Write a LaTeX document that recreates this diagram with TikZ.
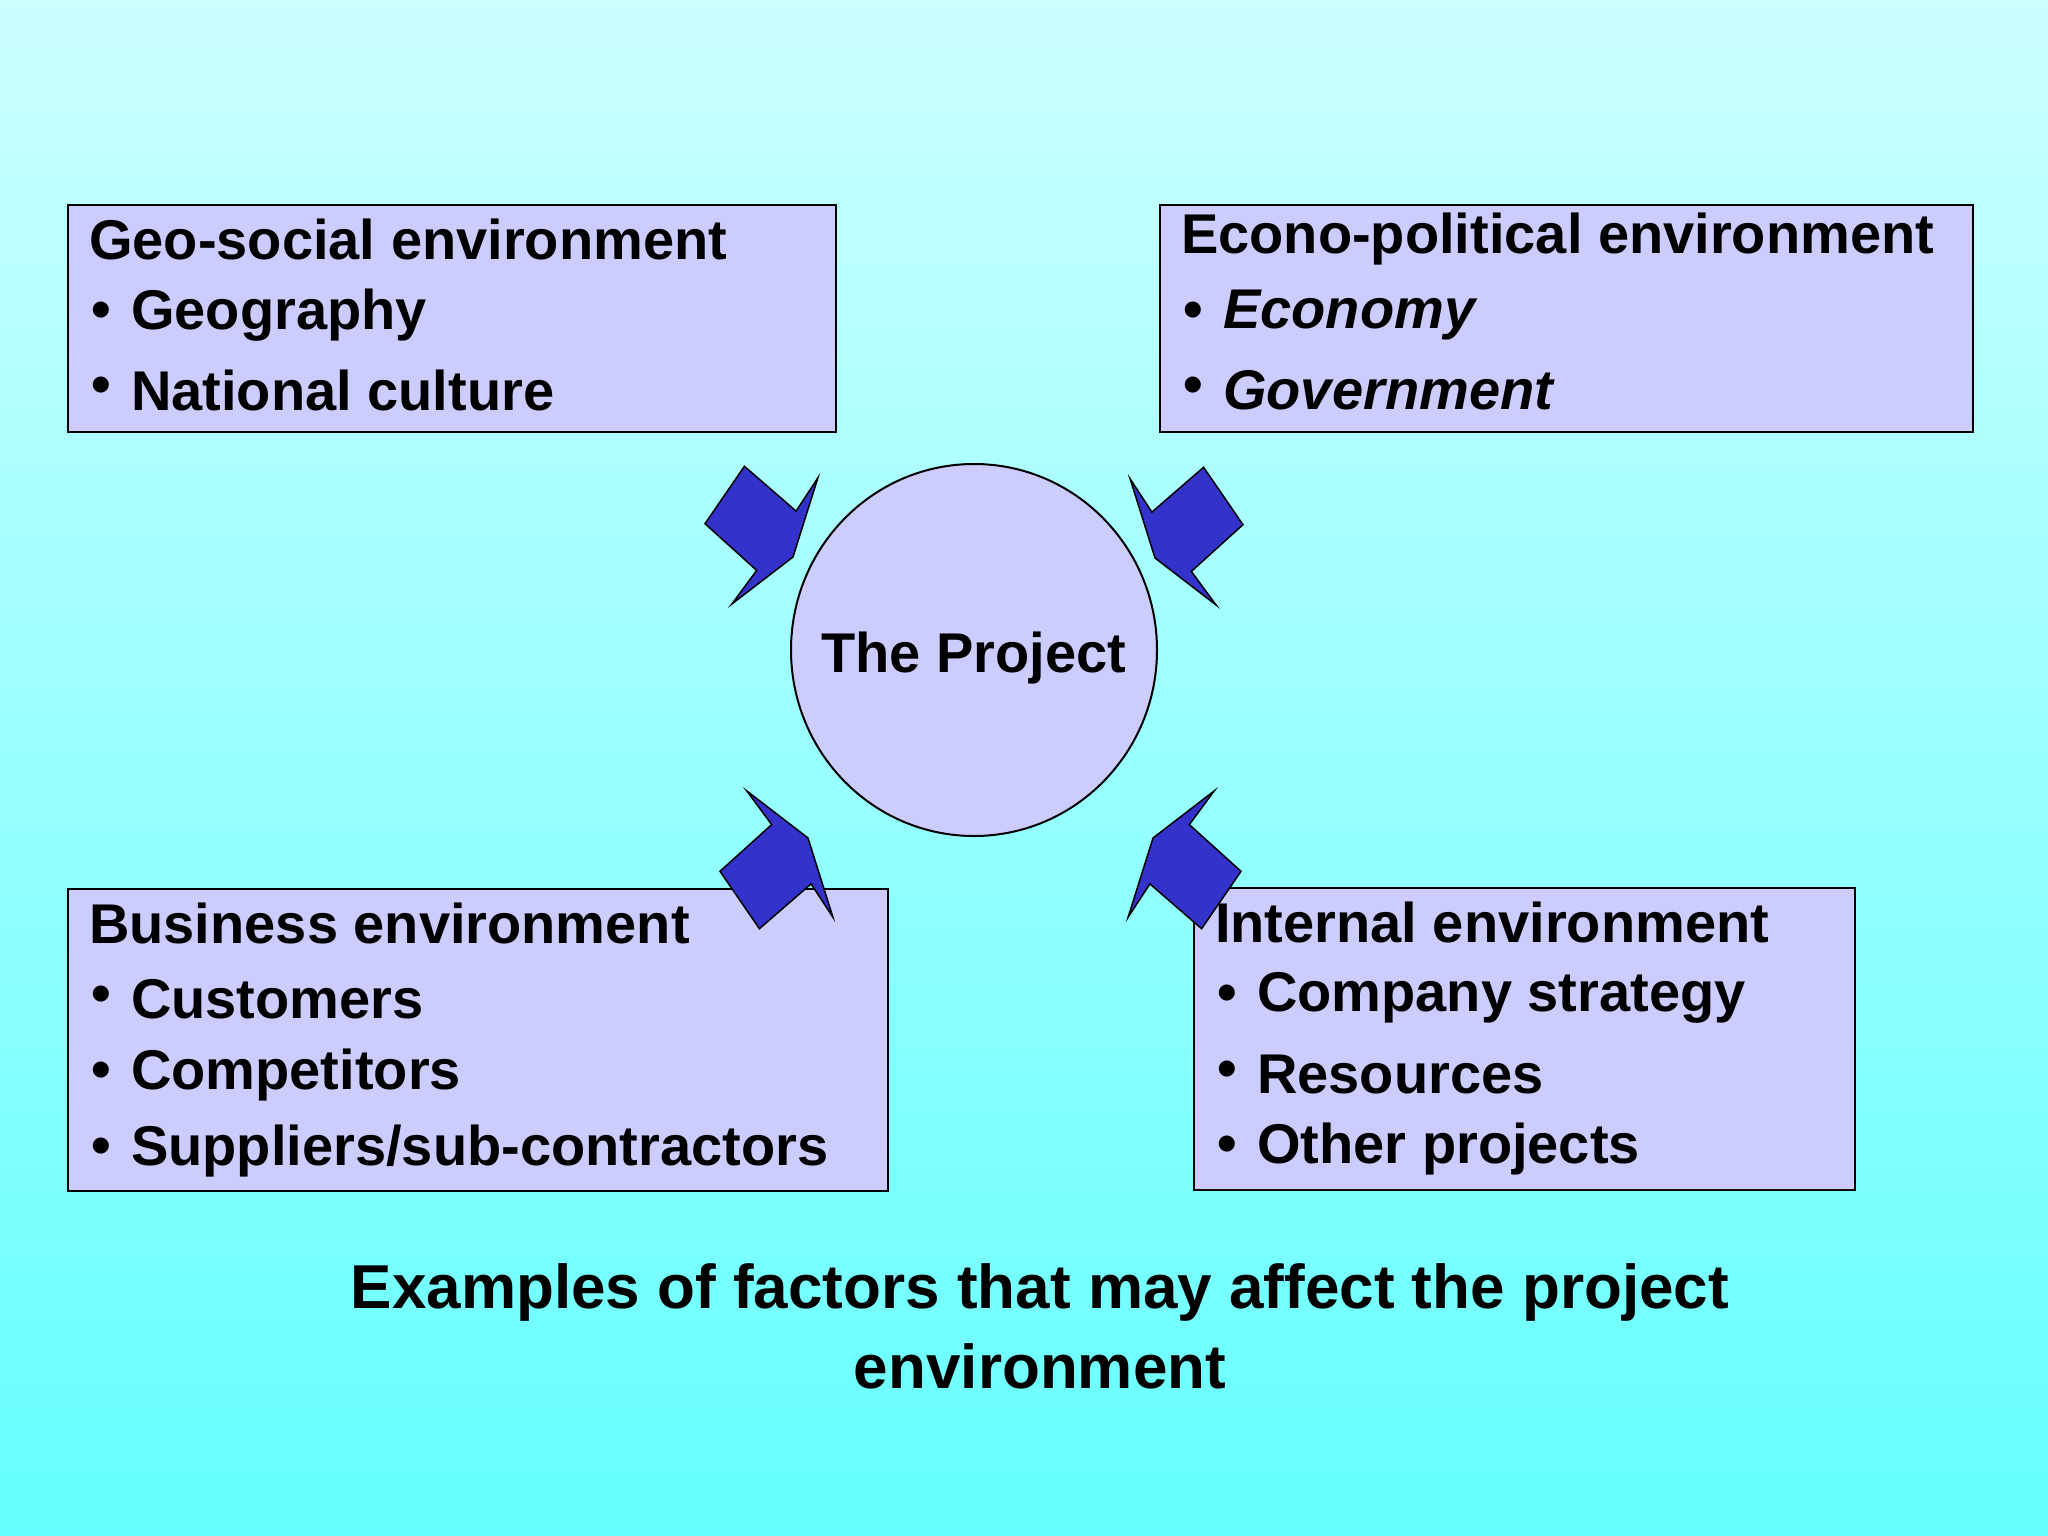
\documentclass[tikz,border=0pt]{standalone}
\usepackage{fontspec}
\setmainfont{Liberation Sans}
\definecolor{bgtop}{RGB}{204,255,255}
\definecolor{bgbot}{RGB}{102,255,255}
\definecolor{boxfill}{RGB}{204,204,255}
\definecolor{arrfill}{RGB}{51,51,204}
\tikzset{
  envbox/.style={draw=black, line width=2.5pt, fill=boxfill},
  txt/.style={anchor=west, inner sep=0pt, font=\fontsize{56}{67}\selectfont\bfseries},
  bul/.style={anchor=west, inner sep=0pt, font=\fontsize{56}{67}\selectfont\bfseries},
  arr/.style={draw=black, line width=1.5pt, fill=arrfill, line join=miter}
}
\newcommand{\arrshape}{(-48.6,-90.7) -- (3.1,-45.9) -- (24.9,-79.2) -- (0,0) -- (-61.2,47.1) -- (-36.3,13.4) -- (-88,-33.3) -- cycle}
\begin{document}
\begin{tikzpicture}[x=1pt,y=-1pt]
\shade[top color=bgtop, bottom color=bgbot] (0,0) rectangle (2048,1536);
\useasboundingbox (0,0) rectangle (2048,1536);
% boxes
\draw[envbox] (68,205) rectangle (836,432);
\draw[envbox] (1160,205) rectangle (1973,432);
\draw[envbox] (68,889) rectangle (888,1191);
\draw[envbox] (1194,888) rectangle (1855,1190);
% top-left text
\node[txt] (g0) at (89,239) {Geo-social environment};
\node[bul] (g1b) at (91,315) {•}; \node[txt] (g1) at (131,315) {Geography};
\node[bul] (g2b) at (91,390) {•}; \node[txt] (g2) at (131,390) {National culture};
% top-right
\node[txt] (e0) at (1181,239) {Econo-political environment};
\node[bul] (e1b) at (1183,315) {•}; \node[txt] (e1) at (1223,315) {\itshape Economy};
\node[bul] (e2b) at (1183,390) {•}; \node[txt] (e2) at (1223,390) {\itshape Government};
% bottom-left
\node[txt] (b0) at (89,923) {Business environment};
\node[bul] (b1b) at (91,999) {•}; \node[txt] (b1) at (131,999) {Customers};
\node[bul] (b2b) at (91,1075) {•}; \node[txt] (b2) at (131,1075) {Competitors};
\node[bul] (b3b) at (91,1151) {•}; \node[txt] (b3) at (131,1151) {Suppliers/sub-contractors};
% bottom-right
\node[txt] (i0) at (1215,922) {Internal environment};
\node[bul] (i1b) at (1217,998) {•}; \node[txt] (i1) at (1257,998) {Company strategy};
\node[bul] (i2b) at (1217,1074) {•}; \node[txt] (i2) at (1257,1074) {Resources};
\node[bul] (i3b) at (1217,1149) {•}; \node[txt] (i3) at (1257,1149) {Other projects};
% circle
\draw[black, line width=2pt, fill=boxfill] (974,650) ellipse (183 and 186);
\node[font=\fontsize{56}{67}\selectfont\bfseries] (proj) at (974,658) {The Project};
% arrows
\begin{scope}[shift={(793,557)}] \draw[arr] \arrshape; \end{scope}
\begin{scope}[shift={(1155,558)}, xscale=-1] \draw[arr] \arrshape; \end{scope}
\begin{scope}[shift={(808,838)}, yscale=-1] \draw[arr] \arrshape; \end{scope}
\begin{scope}[shift={(1153,838)}, xscale=-1, yscale=-1] \draw[arr] \arrshape; \end{scope}
% caption
\node[align=center, font=\fontsize{62}{80}\selectfont\bfseries] (cap) at (1040,1326) {Examples of factors that may affect the project\\environment};
\end{tikzpicture}
\end{document}
